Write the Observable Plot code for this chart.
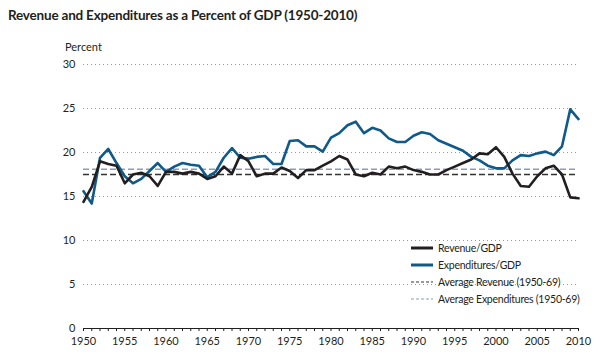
<!DOCTYPE html>
<html><head><meta charset="utf-8">
<script src="https://cdn.jsdelivr.net/npm/d3@7"></script>
<script src="https://cdn.jsdelivr.net/npm/@observablehq/plot@0.6"></script>
<style>
body{margin:0;background:#fff;}
#wrap{position:relative;width:600px;height:359px;font-family:Lato,sans-serif;color:#231f20;}
#title{position:absolute;left:8px;top:7px;font-size:13.5px;letter-spacing:-0.2px;font-weight:bold;white-space:nowrap;}
#ylabel{position:absolute;left:65px;top:40px;font-size:11px;}
#legend{position:absolute;left:411px;top:239px;font-size:10.5px;letter-spacing:-0.25px;}
.row{height:17px;display:flex;align-items:center;white-space:nowrap;}
.row svg{margin-right:5px;}
</style></head>
<body>
<div id="wrap">
<div id="chart"></div>
<div id="title">Revenue and Expenditures as a Percent of GDP (1950-2010)</div>
<div id="ylabel">Percent</div>
<div id="legend"></div>
</div>
<script>
const years = d3.range(1950, 2011);
const revenue = [14.4,16.1,19.0,18.7,18.5,16.5,17.5,17.7,17.3,16.2,
  17.8,17.8,17.6,17.8,17.6,17.0,17.3,18.4,17.6,19.7,
  19.0,17.3,17.6,17.6,18.3,17.9,17.1,18.0,18.0,18.5,
  19.0,19.6,19.2,17.5,17.3,17.7,17.5,18.4,18.2,18.4,
  18.0,17.8,17.5,17.5,18.0,18.4,18.8,19.2,19.9,19.8,
  20.6,19.5,17.6,16.2,16.1,17.3,18.2,18.5,17.5,14.9,14.8];
const expenditures = [15.6,14.2,19.4,20.4,18.8,17.3,16.5,17.0,17.9,18.8,
  17.8,18.4,18.8,18.6,18.5,17.2,17.8,19.4,20.5,19.4,
  19.3,19.5,19.6,18.7,18.7,21.3,21.4,20.7,20.7,20.1,
  21.7,22.2,23.1,23.5,22.2,22.8,22.5,21.6,21.2,21.2,
  21.9,22.3,22.1,21.4,21.0,20.6,20.2,19.5,19.1,18.5,
  18.2,18.2,19.1,19.7,19.6,19.9,20.1,19.7,20.7,24.9,23.8];
const avgRevenue = [17.5];
const avgExpenditures = [18.1];
const yTicks = [0,5,10,15,20,25,30];
const xLabels = [1950,1955,1960,1965,1970,1975,1980,1985,1990,1995,2000,2005,2010];
const seriesNames = ["Revenue/GDP","Expenditures/GDP","Average Revenue (1950-69)","Average Expenditures (1950-69)"];
const colors = {rev:"#231f20", exp:"#0f5a8a", avgRev:"#333333", avgExp:"#8d9bbb"};

const data = years.map((y,i)=>({year:y, rev:revenue[i], exp:expenditures[i]}));

const chart = Plot.plot({
  width:600, height:359,
  marginLeft:83, marginRight:22, marginTop:64, marginBottom:31,
  style:{fontFamily:"Lato, sans-serif", fontSize:"11px", color:"#231f20", background:"#fff"},
  x:{domain:[1950,2010]},
  y:{domain:[0,30]},
  marks:[
    Plot.ruleY(yTicks.filter(d=>d>0), {stroke:"#9a9a9a", strokeDasharray:"1,3", strokeWidth:1}),
    Plot.axisY({ticks:yTicks, tickSize:0, tickPadding:8, label:null, fontSize:11}),
    Plot.axisX({ticks:years, tickSize:3, tickPadding:6, label:null, fontSize:11,
      tickFormat:d => xLabels.includes(d) ? String(d) : ""}),
    Plot.ruleY([0], {stroke:"#231f20", strokeWidth:1}),
    Plot.ruleY(avgExpenditures, {stroke:colors.avgExp, strokeDasharray:"6,3", strokeWidth:1.5}),
    Plot.ruleY(avgRevenue, {stroke:colors.avgRev, strokeDasharray:"6,3", strokeWidth:1.5}),
    Plot.line(data, {x:"year", y:"exp", stroke:colors.exp, strokeWidth:2.6}),
    Plot.line(data, {x:"year", y:"rev", stroke:colors.rev, strokeWidth:2.6})
  ]
});
document.getElementById("chart").appendChild(chart);

const legendStyles = [
  {c:colors.rev, w:3, dash:null},
  {c:colors.exp, w:3, dash:null},
  {c:colors.avgRev, w:1.2, dash:"3,2"},
  {c:colors.avgExp, w:1.2, dash:"3,2"}
];
const leg = d3.select("#legend");
seriesNames.forEach((n,i)=>{
  const r = leg.append("div").attr("class","row");
  const s = r.append("svg").attr("width",22).attr("height",6);
  s.append("line").attr("x1",0).attr("x2",22).attr("y1",3).attr("y2",3)
    .attr("stroke",legendStyles[i].c).attr("stroke-width",legendStyles[i].w)
    .attr("stroke-dasharray",legendStyles[i].dash);
  r.append("span").text(n);
});
</script>
</body></html>
